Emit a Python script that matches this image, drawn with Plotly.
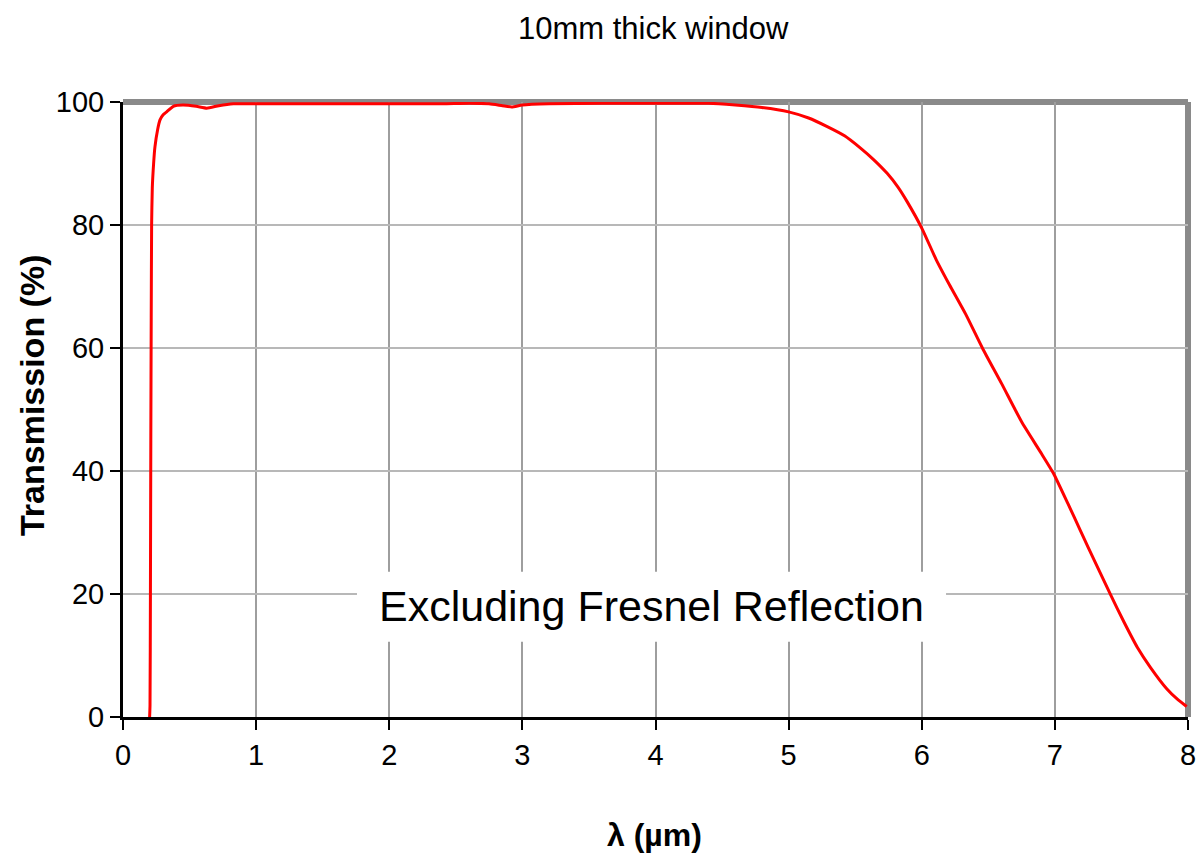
import plotly.graph_objects as go

wavelength_um = [0.200, 0.203, 0.206, 0.209, 0.212, 0.215, 0.220, 0.230, 0.240, 0.260,
                 0.278, 0.300, 0.328, 0.378, 0.450, 0.550, 0.630, 0.720, 0.830,
                 1.2, 1.6, 2.0, 2.4, 2.6, 2.75, 2.85, 2.92, 3.0, 3.2, 3.6, 4.0, 4.4,
                 4.6, 4.8, 5.0, 5.15, 5.29, 5.42, 5.54, 5.64, 5.74, 5.82, 5.89, 6.0,
                 6.11, 6.21, 6.33, 6.46, 6.6, 6.75, 6.9, 6.99, 7.1, 7.19, 7.25, 7.42,
                 7.52, 7.62, 7.72, 7.84, 7.92, 7.99]
transmission = [0.0, 2.0, 20.0, 45.0, 65.0, 80.0, 86.0, 90.0, 92.7, 95.5,
                97.1, 97.9, 98.4, 99.3, 99.5, 99.3, 99.0, 99.4, 99.7,
                99.7, 99.7, 99.7, 99.7, 99.8, 99.7, 99.4, 99.2, 99.5, 99.7, 99.8, 99.8, 99.8,
                99.5, 99.1, 98.4, 97.4, 96.0, 94.5, 92.5, 90.6, 88.4, 86.2, 83.8, 79.5,
                74.3, 70.2, 65.5, 59.8, 54.2, 48.0, 42.8, 39.6, 34.6, 30.4, 27.6, 19.8,
                15.4, 11.3, 8.0, 4.6, 2.9, 1.7]

x_ticks = [0, 1, 2, 3, 4, 5, 6, 7, 8]
y_ticks = [0, 20, 40, 60, 80, 100]

title_text = "10mm thick window"
x_label = "λ (µm)"
y_label = "Transmission (%)"
note_text = "Excluding Fresnel Reflection"

FONT = "Liberation Sans, Arial, sans-serif"

fig = go.Figure()
fig.add_trace(go.Scatter(x=wavelength_um, y=transmission, mode="lines",
                         line=dict(color="#ff0000", width=3, shape="spline", smoothing=0.5),
                         showlegend=False))

fig.update_layout(
    width=1200, height=856,
    margin=dict(l=123, r=12, t=102, b=139),
    paper_bgcolor="white", plot_bgcolor="white",
    xaxis=dict(range=[0, 8], tickvals=x_ticks, showgrid=True, gridcolor="#9e9e9e", gridwidth=2,
               showline=True, linecolor="#000000", linewidth=3, ticks="outside", ticklen=10,
               tickwidth=2, tickcolor="#000000", zeroline=False, automargin=False,
               tickfont=dict(family=FONT, size=29, color="#000000")),
    yaxis=dict(range=[0, 100], tickvals=y_ticks, showgrid=True, gridcolor="#b8b8b8", gridwidth=1.5,
               showline=True, linecolor="#000000", linewidth=3, ticks="outside", ticklen=10,
               tickwidth=2, tickcolor="#000000", zeroline=False, automargin=False,
               tickfont=dict(family=FONT, size=29, color="#000000")),
)

# gray frame on top and right
fig.add_shape(type="line", xref="paper", yref="paper", x0=0, x1=1, y0=1, y1=1,
              line=dict(color="#8a8a8a", width=6), layer="below")
fig.add_shape(type="line", xref="paper", yref="paper", x0=1, x1=1, y0=0, y1=1,
              line=dict(color="#8a8a8a", width=6), layer="below")

# white box behind the note (hides gridlines)
fig.add_shape(type="rect", xref="paper", yref="paper", x0=0.2197, x1=0.7728, y0=0.1224, y1=0.2363,
              fillcolor="white", line=dict(width=0), layer="above")

fig.add_annotation(x=0.4958, y=0.1805, xref="paper", yref="paper", text=note_text, showarrow=False,
                   xanchor="center", yanchor="middle",
                   font=dict(family=FONT, size=43, color="#000000"))

fig.add_annotation(x=0.4977, y=1.1203, xref="paper", yref="paper", text=title_text, showarrow=False,
                   xanchor="center", yanchor="middle",
                   font=dict(family=FONT, size=31, color="#000000"))

fig.add_annotation(x=0.4995, y=-0.192, xref="paper", yref="paper", text="<b>" + x_label + "</b>",
                   xanchor="center", yanchor="middle",
                   showarrow=False, font=dict(family=FONT, size=32, color="#000000"))

fig.add_annotation(x=-0.0854, y=0.5236, xref="paper", yref="paper", text="<b>" + y_label + "</b>",
                   xanchor="center", yanchor="middle",
                   textangle=-90, showarrow=False, font=dict(family=FONT, size=34, color="#000000"))

fig.write_html("out.html")
